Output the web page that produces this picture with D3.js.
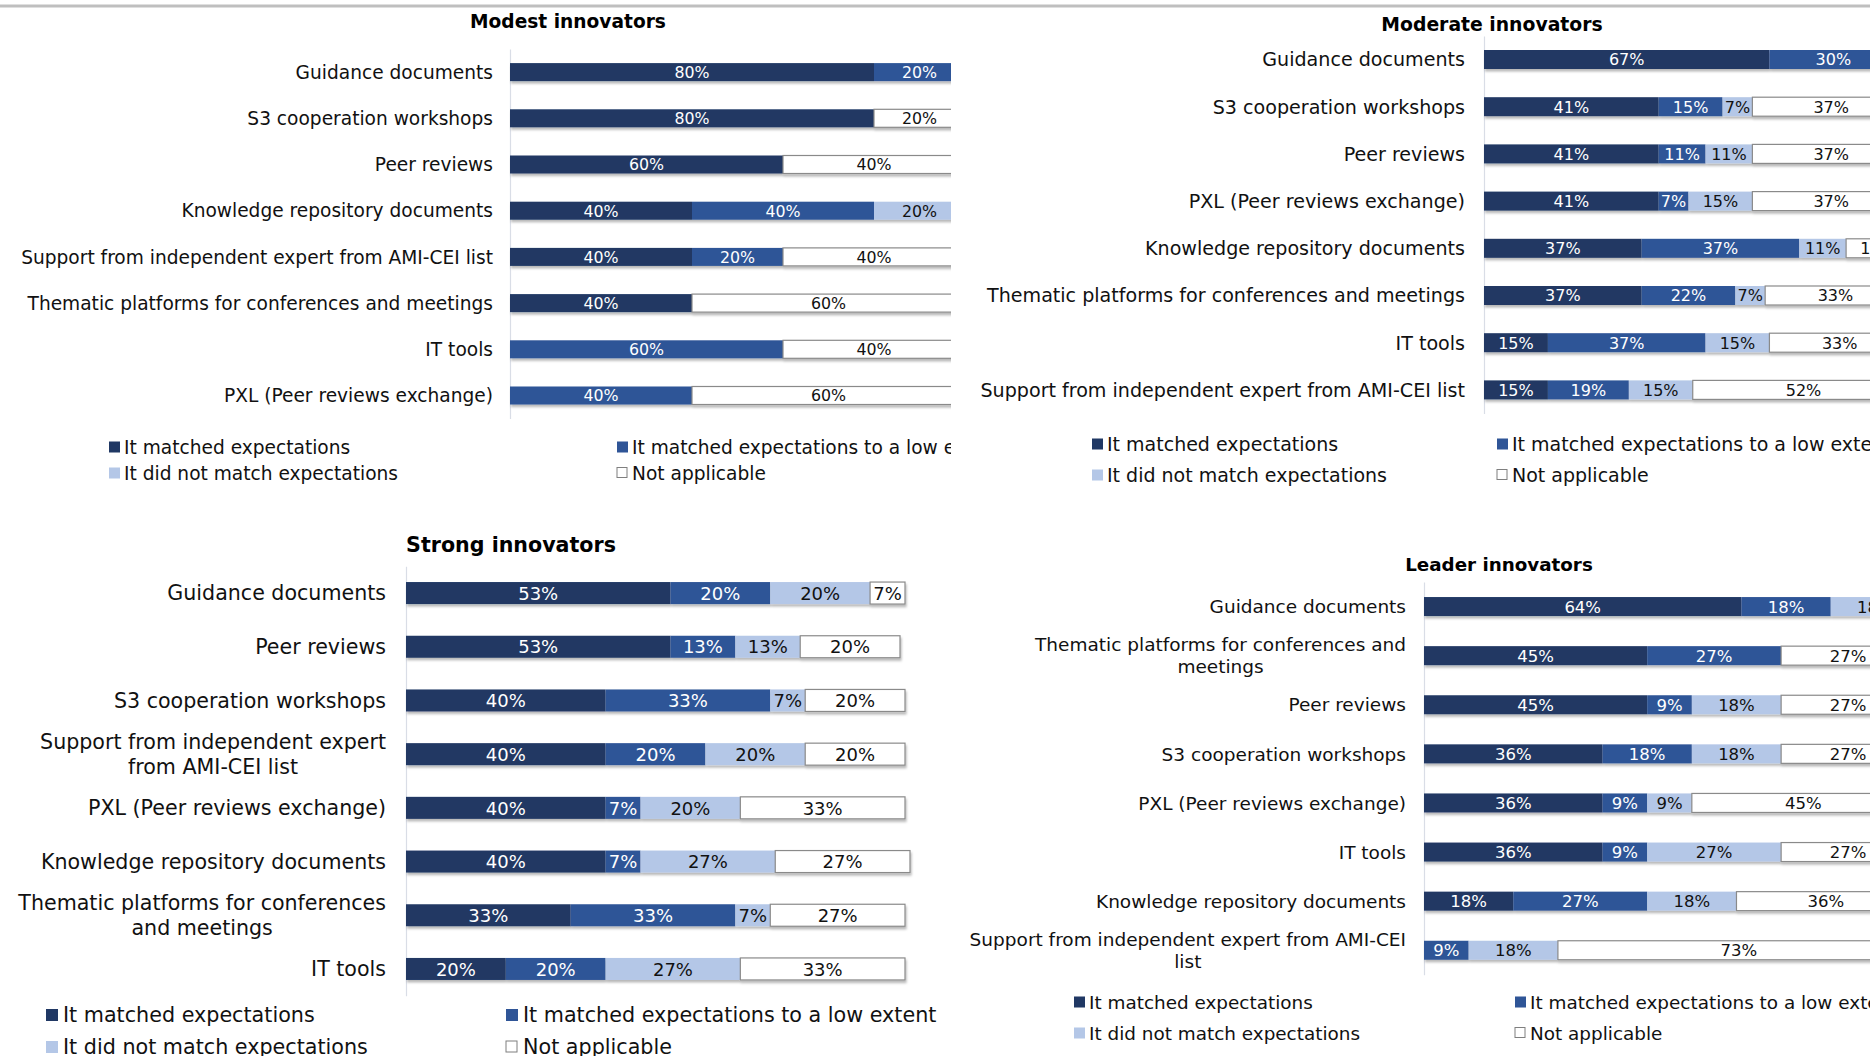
<!DOCTYPE html>
<html>
<head>
<meta charset="utf-8">
<script src="https://cdn.jsdelivr.net/npm/d3@7"></script>
<style>
  html, body { margin: 0; padding: 0; background: #fff; overflow: hidden; }
  svg text { font-family: "DejaVu Sans", Verdana, sans-serif; }
</style>
</head>
<body>
<svg id="chart" width="1870" height="1056"></svg>
<script>
// Response categories (stack order) and their fills
const seriesNames = [
  "It matched expectations",
  "It matched expectations to a low extent",
  "It did not match expectations",
  "Not applicable"
];
const seriesColors = ["#203864", "#2f5597", "#b4c7e7", "#ffffff"];

// Modest innovators (%)
const modestCategories = [
  "Guidance documents",
  "S3 cooperation workshops",
  "Peer reviews",
  "Knowledge repository documents",
  "Support from independent expert from AMI-CEI list",
  "Thematic platforms for conferences and meetings",
  "IT tools",
  "PXL (Peer reviews exchange)"
];
const modestMatched       = [80, 80, 60, 40, 40, 40, 0, 0];
const modestLowExtent     = [20, 0, 0, 40, 20, 0, 60, 40];
const modestNotMatched    = [0, 0, 0, 20, 0, 0, 0, 0];
const modestNotApplicable = [0, 20, 40, 0, 40, 60, 40, 60];

// Moderate innovators (%)
const moderateCategories = [
  "Guidance documents",
  "S3 cooperation workshops",
  "Peer reviews",
  "PXL (Peer reviews exchange)",
  "Knowledge repository documents",
  "Thematic platforms for conferences and meetings",
  "IT tools",
  "Support from independent expert from AMI-CEI list"
];
const moderateMatched       = [67, 41, 41, 41, 37, 37, 15, 15];
const moderateLowExtent     = [30, 15, 11, 7, 37, 22, 37, 19];
const moderateNotMatched    = [0, 7, 11, 15, 11, 7, 15, 15];
const moderateNotApplicable = [0, 37, 37, 37, 15, 33, 33, 52];

// Strong innovators (%)
const strongCategories = [
  "Guidance documents",
  "Peer reviews",
  "S3 cooperation workshops",
  "Support from independent expert\nfrom AMI-CEI list",
  "PXL (Peer reviews exchange)",
  "Knowledge repository documents",
  "Thematic platforms for conferences\nand meetings",
  "IT tools"
];
const strongMatched       = [53, 53, 40, 40, 40, 40, 33, 20];
const strongLowExtent     = [20, 13, 33, 20, 7, 7, 33, 20];
const strongNotMatched    = [20, 13, 7, 20, 20, 27, 7, 27];
const strongNotApplicable = [7, 20, 20, 20, 33, 27, 27, 33];

// Leader innovators (%)
const leaderCategories = [
  "Guidance documents",
  "Thematic platforms for conferences and\nmeetings",
  "Peer reviews",
  "S3 cooperation workshops",
  "PXL (Peer reviews exchange)",
  "IT tools",
  "Knowledge repository documents",
  "Support from independent expert from AMI-CEI\nlist"
];
const leaderMatched       = [64, 45, 45, 36, 36, 36, 18, 0];
const leaderLowExtent     = [18, 27, 9, 18, 9, 9, 27, 9];
const leaderNotMatched    = [18, 0, 18, 18, 9, 27, 18, 18];
const leaderNotApplicable = [0, 27, 27, 27, 45, 27, 36, 73];

const panels = [
  {
    title: "Modest innovators",
    categories: modestCategories,
    series: [modestMatched, modestLowExtent, modestNotMatched, modestNotApplicable],
    x0: 510, width: 455, clipRight: 951,
    y0: 49, step: 46.2, barH: 18,
    labelX: 493, labelSize: 18.6, lineH: 22, dataSize: 15.8,
    titleX: 568, titleY: 21, titleSize: 18.6,
    legendRows: [447, 473], legendCols: [109, 617], legendSize: 18.6, marker: 11, markerGap: 15
  },
  {
    title: "Moderate innovators",
    categories: moderateCategories,
    series: [moderateMatched, moderateLowExtent, moderateNotMatched, moderateNotApplicable],
    x0: 1484, width: 426, clipRight: null,
    y0: 35.9, step: 47.2, barH: 19,
    labelX: 1465, labelSize: 19.1, lineH: 22, dataSize: 16,
    titleX: 1492, titleY: 24, titleSize: 18.8,
    legendRows: [444, 475], legendCols: [1092, 1497], legendSize: 19, marker: 11, markerGap: 15
  },
  {
    title: "Strong innovators",
    categories: strongCategories,
    series: [strongMatched, strongLowExtent, strongNotMatched, strongNotApplicable],
    x0: 406, width: 499, clipRight: null,
    y0: 566.2, step: 53.7, barH: 22,
    labelX: 386, labelSize: 20.6, lineH: 25, dataSize: 18,
    titleX: 511, titleY: 545, titleSize: 20.6,
    legendRows: [1015, 1047], legendCols: [46, 506], legendSize: 20.7, marker: 12, markerGap: 17
  },
  {
    title: "Leader innovators",
    categories: leaderCategories,
    series: [leaderMatched, leaderLowExtent, leaderNotMatched, leaderNotApplicable],
    x0: 1424, width: 496, clipRight: null,
    y0: 582, step: 49.1, barH: 19,
    labelX: 1406, labelSize: 18.5, lineH: 22, dataSize: 16.5,
    titleX: 1499, titleY: 564, titleSize: 18.3,
    legendRows: [1002, 1033], legendCols: [1074, 1515], legendSize: 18.4, marker: 11, markerGap: 15
  }
];

const svg = d3.select("#chart");
const defs = svg.append("defs");

// soft shadow under each stacked bar
const shadow = defs.append("filter")
  .attr("id", "barShadow")
  .attr("x", "-5%").attr("y", "-40%")
  .attr("width", "110%").attr("height", "200%");
shadow.append("feDropShadow")
  .attr("dx", 1).attr("dy", 2.5)
  .attr("stdDeviation", 1.3)
  .attr("flood-color", "#000")
  .attr("flood-opacity", 0.28);

// top rule
svg.append("line")
  .attr("x1", 0).attr("x2", 1870)
  .attr("y1", 6).attr("y2", 6)
  .attr("stroke", "#bfbfbf").attr("stroke-width", 3);

const keys = ["s0", "s1", "s2", "s3"];

function drawPanel(p, idx) {
  const g = svg.append("g");
  if (p.clipRight) {
    const id = "panelClip" + idx;
    defs.append("clipPath").attr("id", id)
      .append("rect").attr("x", 0).attr("y", 0)
      .attr("width", p.clipRight).attr("height", 1056);
    g.attr("clip-path", `url(#${id})`);
  }

  const table = p.categories.map((c, i) => {
    const row = { category: c };
    keys.forEach((k, j) => { row[k] = p.series[j][i]; });
    return row;
  });
  const stacked = d3.stack().keys(keys)(table);

  const x = d3.scaleLinear().domain([0, 100]).range([p.x0, p.x0 + p.width]);
  const pad = 1 - p.barH / p.step;
  const y = d3.scaleBand()
    .domain(p.categories)
    .range([p.y0, p.y0 + p.step * p.categories.length])
    .paddingInner(pad)
    .paddingOuter(pad / 2);

  // title
  g.append("text")
    .attr("x", p.titleX).attr("y", p.titleY)
    .attr("dy", "0.36em")
    .attr("text-anchor", "middle")
    .attr("font-weight", "bold")
    .attr("font-size", p.titleSize)
    .attr("fill", "#000")
    .text(p.title);

  // category axis line
  const axis = d3.axisLeft(y).tickSize(0).tickSizeOuter(0).tickFormat("");
  const axisG = g.append("g").attr("transform", `translate(${p.x0},0)`).call(axis);
  axisG.select(".domain").attr("stroke", "#d9dde6").attr("stroke-width", 1.2);
  axisG.selectAll(".tick").remove();

  // category labels (multi-line labels are centred on each other, block right-aligned)
  p.categories.forEach(c => {
    const lines = c.split("\n");
    const cy = y(c) + y.bandwidth() / 2;
    if (lines.length === 1) {
      g.append("text")
        .attr("x", p.labelX).attr("y", cy).attr("dy", "0.36em")
        .attr("text-anchor", "end")
        .attr("font-size", p.labelSize)
        .attr("fill", "#111")
        .text(c);
    } else {
      const nodes = lines.map((ln, k) => g.append("text")
        .attr("y", cy + (k - (lines.length - 1) / 2) * p.lineH)
        .attr("dy", "0.36em")
        .attr("text-anchor", "middle")
        .attr("font-size", p.labelSize)
        .attr("fill", "#111")
        .text(ln));
      const w = d3.max(nodes, n => n.node().getComputedTextLength());
      nodes.forEach(n => n.attr("x", p.labelX - w / 2));
    }
  });

  // bars
  const rows = g.append("g").selectAll("g.row")
    .data(p.categories)
    .join("g")
    .attr("class", "row")
    .attr("filter", "url(#barShadow)");

  rows.each(function (c, i) {
    const rg = d3.select(this);
    stacked.forEach((s, j) => {
      const d = s[i];
      if (d[1] - d[0] <= 0) return;
      rg.append("rect")
        .attr("x", x(d[0]))
        .attr("y", y(c))
        .attr("width", x(d[1]) - x(d[0]))
        .attr("height", y.bandwidth())
        .attr("fill", seriesColors[j])
        .attr("stroke", j === 3 ? "#8a8a8a" : "none")
        .attr("stroke-width", j === 3 ? 1.2 : 0);
    });
  });

  // value labels
  stacked.forEach((s, j) => {
    s.forEach((d, i) => {
      const v = d[1] - d[0];
      if (v <= 0) return;
      const c = p.categories[i];
      g.append("text")
        .attr("x", (x(d[0]) + x(d[1])) / 2)
        .attr("y", y(c) + y.bandwidth() / 2)
        .attr("dy", "0.37em")
        .attr("text-anchor", "middle")
        .attr("font-size", p.dataSize)
        .attr("fill", j < 2 ? "#ffffff" : "#111")
        .text(`${v}%`);
    });
  });

  // legend (2 x 2)
  seriesNames.forEach((name, j) => {
    const lx = p.legendCols[j % 2];
    const ly = p.legendRows[Math.floor(j / 2)];
    g.append("rect")
      .attr("x", lx).attr("y", ly - p.marker / 2)
      .attr("width", p.marker - (j === 3 ? 1 : 0))
      .attr("height", p.marker - (j === 3 ? 1 : 0))
      .attr("fill", seriesColors[j])
      .attr("stroke", j === 3 ? "#7f7f7f" : "none")
      .attr("stroke-width", 1);
    g.append("text")
      .attr("x", lx + p.markerGap).attr("y", ly).attr("dy", "0.36em")
      .attr("font-size", p.legendSize)
      .attr("fill", "#111")
      .text(name);
  });
}

panels.forEach(drawPanel);
</script>
</body>
</html>
